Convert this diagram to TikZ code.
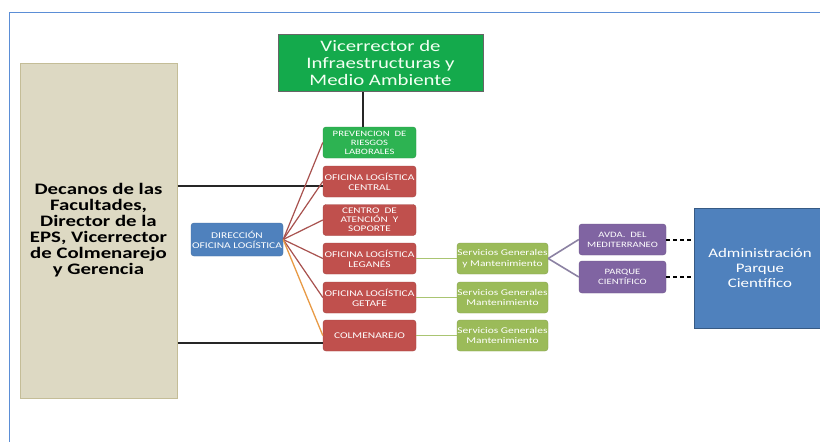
\documentclass[tikz,border=0pt]{standalone}
\usepackage{fontspec}
\setmainfont{Carlito}
\newfontfamily\wf[FakeStretch=1.3]{Carlito}
\definecolor{frameblue}{HTML}{5B8ED6}
\definecolor{vicgreen}{HTML}{14AA4C}
\definecolor{prevgreen}{HTML}{2DB352}
\definecolor{offred}{HTML}{C0504D}
\definecolor{offgreen}{HTML}{9BBB59}
\definecolor{offpurple}{HTML}{8064A2}
\definecolor{offblue}{HTML}{4F81BD}
\definecolor{tan}{HTML}{DDD9C3}
\definecolor{tanborder}{HTML}{C4BD97}
\definecolor{fanred}{HTML}{A8514E}
\definecolor{fanorange}{HTML}{E89A45}
\definecolor{linkpurple}{HTML}{8C82A3}
\tikzset{
  box/.style={inner sep=0pt, align=center, text=white},
  smallbox/.style={box, rounded corners=3pt, minimum width=93pt, minimum height=31pt,
    font=\wf\fontsize{8.8}{9.8}\selectfont},
  redbox/.style={smallbox, fill=offred, draw=offred!85!black},
  greenbox/.style={smallbox, fill=offgreen, draw=offgreen!85!black, minimum width=91pt,
    font=\wf\fontsize{8.8}{10.5}\selectfont},
  purplebox/.style={smallbox, fill=offpurple, draw=offpurple!85!black, minimum width=87pt,
    font=\wf\fontsize{8.2}{10}\selectfont},
  fan/.style={draw=fanred, line width=1.2pt},
  glink/.style={draw=offgreen!85!white, line width=1.8pt},
  plink/.style={draw=linkpurple, line width=1.6pt},
  blk/.style={draw=black!85, line width=1.2pt},
  dashlink/.style={draw=black, line width=2pt, dash pattern=on 4pt off 3pt}
}
\begin{document}
\begin{tikzpicture}[x=1pt,y=-1pt]
\useasboundingbox (0,0) rectangle (820,442);
\fill[white] (0,0) rectangle (820,442);
\begin{scope}
\clip (0,0) rectangle (820,442);
\draw[frameblue, line width=1.5pt] (9.5,12.5) rectangle (840,460);
\node[box, fill=offblue, draw=offblue!70!black, line width=1pt, minimum width=132pt, minimum height=120pt,
  font=\wf\fontsize{13}{15}\selectfont] (adm) at (760,268)
  {Administración\\Parque\\Científico};
\end{scope}
% main boxes
\node[box, fill=vicgreen, draw=black!60, line width=1pt, minimum width=205pt, minimum height=57pt,
  font=\wf\fontsize{16}{16.7}\selectfont, text=white!95!green] (vic) at (380.5,63)
  {Vicerrector de\\Infraestructuras y\\Medio Ambiente};
\node[box, fill=tan, draw=tanborder, line width=1pt, minimum width=157pt, minimum height=335pt,
  text=black, font=\wf\bfseries\fontsize{16}{16}\selectfont] (dec) at (98.5,230.5)
  {Decanos de las\\Facultades,\\Director de la\\EPS, Vicerrector\\de Colmenarejo\\y Gerencia};
\node[smallbox, fill=prevgreen, draw=prevgreen!85!black, font=\wf\fontsize{8.2}{9}\selectfont] (prev) at (369.5,142.5)
  {PREVENCION \ DE\\RIESGOS\\LABORALES};
\node[redbox] (central) at (369.5,181.5) {OFICINA LOGÍSTICA\\CENTRAL};
\node[redbox, font=\wf\fontsize{8.6}{9.2}\selectfont] (centro) at (369.5,220) {CENTRO \ DE\\ATENCIÓN \ Y\\SOPORTE};
\node[redbox] (leg) at (369.5,258.5) {OFICINA LOGÍSTICA\\LEGANÉS};
\node[redbox] (get) at (369.5,297.5) {OFICINA LOGÍSTICA\\GETAFE};
\node[redbox] (colm) at (369.5,335.5) {COLMENAREJO};
\node[smallbox, fill=offblue, draw=offblue!85!black, minimum width=92pt, minimum height=33pt] (dir) at (237,239.5)
  {DIRECCIÓN\\OFICINA LOGÍSTICA};
\node[greenbox] (sg1) at (502.5,258.5) {Servicios Generales\\y Mantenimiento};
\node[greenbox] (sg2) at (502.5,297.5) {Servicios Generales\\Mantenimiento};
\node[greenbox] (sg3) at (502.5,335.5) {Servicios Generales\\Mantenimiento};
\node[purplebox] (avda) at (622.5,239.5) {AVDA.\ \ DEL\\MEDITERRANEO};
\node[purplebox, minimum height=32pt] (parque) at (622.5,277) {PARQUE\\CIENTÍFICO};
% anchor points
\coordinate (vtop) at ([xshift=-6.5pt]prev.north |- vic.south);
\coordinate (vbot) at ([xshift=-6.5pt]prev.north);
\coordinate (cend) at ([yshift=-4.5pt]central.west);
\coordinate (cstart) at (dec.east |- cend);
\coordinate (mend) at ([yshift=-7.5pt]colm.west);
\coordinate (mstart) at (dec.east |- mend);
% connectors
\draw[blk] (vtop) -- (vbot);
\draw[blk] (cstart) -- (cend);
\draw[blk] (mstart) -- (mend);
\foreach \t in {prev,central,centro,leg,get} \draw[fan] (dir.east) -- (\t.west);
\draw[fanorange, line width=1.3pt] (dir.east) -- (colm.west);
\draw[glink] (leg.east) -- (sg1.west);
\draw[glink] (get.east) -- (sg2.west);
\draw[glink] (colm.east) -- (sg3.west);
\draw[plink] (sg1.east) -- (avda.west);
\draw[plink] (sg1.east) -- (parque.west);
\draw[dashlink] (avda.east) -- (avda.east -| adm.west);
\draw[dashlink] (parque.east) -- (parque.east -| adm.west);
\end{tikzpicture}
\end{document}
